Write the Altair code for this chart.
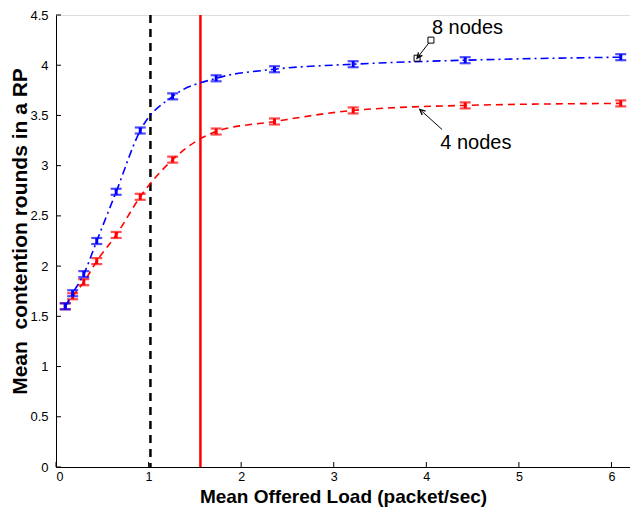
import altair as alt
import pandas as pd

# ---- data ----
load = [0.10, 0.18, 0.30, 0.44, 0.65, 0.91, 1.26, 1.73, 2.36, 3.21, 4.42, 6.10]
rounds_8 = [1.60, 1.73, 1.92, 2.25, 2.74, 3.35, 3.69, 3.87, 3.96, 4.01, 4.05, 4.08]
rounds_4 = [1.60, 1.70, 1.84, 2.05, 2.31, 2.69, 3.06, 3.34, 3.44, 3.55, 3.60, 3.62]
err_8 = [0.03] * 12
err_4 = [0.03] * 12

vline_black = 1.02
vline_red = 1.56

x_ticks = [0, 1, 2, 3, 4, 5, 6]
y_ticks = [0, 0.5, 1, 1.5, 2, 2.5, 3, 3.5, 4, 4.5]

labels = ["8 nodes", "4 nodes"]
label_x = [4.06, 4.15]
label_y = [4.37, 3.23]
arrow_from_x = [4.05, 4.17]
arrow_from_y = [4.25, 3.36]
arrow_to_x = [3.90, 3.93]
arrow_to_y = [4.07, 3.56]
arrow_angle = [218, 312]

XMAX, YMAX = 6.2, 4.5
W, H = 574, 452

df8 = pd.DataFrame({"x": load, "y": rounds_8, "lo": [a - b for a, b in zip(rounds_8, err_8)],
                    "hi": [a + b for a, b in zip(rounds_8, err_8)]})
df4 = pd.DataFrame({"x": load, "y": rounds_4, "lo": [a - b for a, b in zip(rounds_4, err_4)],
                    "hi": [a + b for a, b in zip(rounds_4, err_4)]})

xs = alt.Scale(domain=[0, XMAX], nice=False, zero=False)
ys = alt.Scale(domain=[0, YMAX], nice=False, zero=False)

FONT = "Liberation Sans"

xaxis = alt.Axis(values=x_ticks, tickSize=0, grid=False, domainColor="black", domainWidth=1,
                 labelFont=FONT, labelFontSize=12.5, labelColor="black", labelPadding=3,
                 title="Mean Offered Load (packet/sec)", titleFont=FONT, titleFontSize=19,
                 titleFontWeight="bold", titleColor="black", titleY=20, titleBaseline="top",
                 format="d")
yaxis = alt.Axis(values=y_ticks, tickSize=0, grid=False, domainColor="black", domainWidth=1,
                 labelFont=FONT, labelFontSize=13, labelColor="black", labelPadding=8,
                 title="Mean\u00a0 contention rounds in a RP", titleFont=FONT, titleFontSize=21,
                 titleFontWeight="bold", titleColor="black", titleX=-30, titleY=216,
                 titleBaseline="alphabetic", format="~g")

base_axes = alt.Chart(pd.DataFrame({"x": [0], "y": [0]})).mark_point(opacity=0).encode(
    x=alt.X("x:Q", scale=xs, axis=xaxis),
    y=alt.Y("y:Q", scale=ys, axis=yaxis),
)

# inward ticks
xt = alt.Chart(pd.DataFrame({"x": x_ticks})).mark_rule(color="black", strokeWidth=1).encode(
    x=alt.X("x:Q", scale=xs), y=alt.value(H), y2=alt.value(H - 5))
yt = alt.Chart(pd.DataFrame({"y": y_ticks})).mark_rule(color="black", strokeWidth=1).encode(
    y=alt.Y("y:Q", scale=ys), x=alt.value(0), x2=alt.value(5))

def series(df, color, dash):
    line = alt.Chart(df).mark_line(color=color, strokeWidth=1.6, strokeDash=dash,
                                   interpolate="monotone").encode(
        x=alt.X("x:Q", scale=xs), y=alt.Y("y:Q", scale=ys))
    bar = alt.Chart(df).mark_rule(color=color, strokeWidth=3).encode(
        x=alt.X("x:Q", scale=xs), y=alt.Y("lo:Q", scale=ys), y2="hi:Q")
    cap_lo = alt.Chart(df).mark_tick(color=color, thickness=2.2, size=11, orient="horizontal").encode(
        x=alt.X("x:Q", scale=xs), y=alt.Y("lo:Q", scale=ys))
    cap_hi = alt.Chart(df).mark_tick(color=color, thickness=2.2, size=11, orient="horizontal").encode(
        x=alt.X("x:Q", scale=xs), y=alt.Y("hi:Q", scale=ys))
    return line + bar + cap_lo + cap_hi

s4 = series(df4, "#ff0000", [7, 5])
s8 = series(df8, "#0000ff", [8, 4, 2, 4])

vb = alt.Chart(pd.DataFrame({"x": [vline_black]})).mark_rule(
    color="black", strokeWidth=2.5, strokeDash=[8, 6]).encode(
    x=alt.X("x:Q", scale=xs), y=alt.value(0), y2=alt.value(H))
vr = alt.Chart(pd.DataFrame({"x": [vline_red]})).mark_rule(
    color="#ff0000", strokeWidth=2.5).encode(
    x=alt.X("x:Q", scale=xs), y=alt.value(0), y2=alt.value(H))

ann = pd.DataFrame({"label": labels, "lx": label_x, "ly": label_y,
                    "x1": arrow_from_x, "y1": arrow_from_y,
                    "x2": arrow_to_x, "y2": arrow_to_y, "ang": arrow_angle})

texts = alt.Chart(ann).mark_text(align="left", baseline="middle", font=FONT, fontSize=20,
                                 color="black").encode(
    x=alt.X("lx:Q", scale=xs), y=alt.Y("ly:Q", scale=ys), text="label:N")
arrows = alt.Chart(ann).mark_rule(color="black", strokeWidth=1).encode(
    x=alt.X("x1:Q", scale=xs), y=alt.Y("y1:Q", scale=ys), x2="x2:Q", y2="y2:Q")
heads = alt.Chart(ann).mark_point(shape="M-0.6,1.3L0,0L0.6,1.3", filled=False, color="black",
                                  strokeWidth=1.3, size=70, opacity=1).encode(
    x=alt.X("x2:Q", scale=xs), y=alt.Y("y2:Q", scale=ys), angle=alt.Angle("ang:Q", scale=None))
sq_df = ann.iloc[[0]]
squares = alt.Chart(sq_df).mark_point(
    shape="square", filled=True, fill="white", stroke="black", strokeWidth=1, size=36, opacity=1
).encode(x=alt.X("x1:Q", scale=xs), y=alt.Y("y1:Q", scale=ys))
squares2 = alt.Chart(sq_df).mark_point(
    shape="square", filled=False, stroke="black", strokeWidth=1, size=36, opacity=1
).encode(x=alt.X("x2:Q", scale=xs), y=alt.Y("y2:Q", scale=ys))

chart = alt.layer(base_axes, vb, vr, s4, s8, arrows, squares, squares2, heads, texts, xt, yt).properties(
    width=W, height=H,
    autosize=alt.AutoSizeParams(type="none"),
    padding={"left": 48, "top": 7, "right": 0, "bottom": 40},
).configure_view(stroke=None).configure(background="white")

chart.save("out.html", embed_options={"renderer": "svg", "actions": False})
